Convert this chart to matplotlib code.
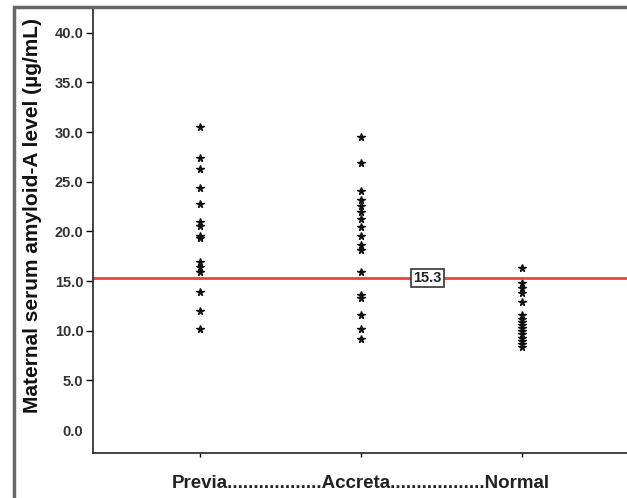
import matplotlib.pyplot as plt
from matplotlib.patches import Rectangle

plt.rcParams['font.family'] = ['Liberation Sans', 'DejaVu Sans']

# data
groups = ['Previa', 'Accreta', 'Normal']
previa = [30.5, 27.4, 26.3, 24.4, 22.8, 21.0, 20.6, 19.5, 19.3,
          16.9, 16.4, 15.9, 13.9, 12.0, 10.2]
accreta = [29.5, 26.9, 24.1, 23.2, 22.6, 22.0, 21.3, 20.5, 19.5,
           18.6, 18.1, 15.9, 13.6, 13.3, 11.6, 10.2, 9.2]
normal = [16.3, 14.8, 14.3, 13.8, 12.9, 11.6, 11.2, 10.9, 10.6,
          10.3, 10.0, 9.7, 9.3, 9.0, 8.7, 8.4]
cutoff = 15.3
y_ticks = [0, 5, 10, 15, 20, 25, 30, 35, 40]

W, H = 627, 498
fig = plt.figure(figsize=(W / 100, H / 100), dpi=100)
ax = fig.add_axes([93 / W, 45 / H, 1 - 93 / W, 446 / H])

# outer frame of the original figure
fig.patches.append(Rectangle((14 / W, -0.1), 1.2, 0.1 + 491 / H, transform=fig.transFigure,
                             fill=False, edgecolor='#666666', linewidth=2.5, zorder=0))

for i, vals in enumerate([previa, accreta, normal]):
    ax.plot([i + 1] * len(vals), vals, linestyle='none', marker='*',
            markersize=5.5, color='#111111')

ax.axhline(cutoff, color='#e8453c', linewidth=2)
ax.text(2.41, cutoff, '%.1f' % cutoff, ha='center', va='center', fontsize=10.5,
        fontweight='bold', color='#222222',
        bbox=dict(boxstyle='square,pad=0.15', facecolor='white', edgecolor='#333333', lw=1.2))

ax.set_xlim(0.335, 3.65)
ax.set_ylim(-2.3, 42.6)
ax.set_yticks(y_ticks)
ax.set_yticklabels(['%.1f' % v for v in y_ticks], fontsize=10.5, fontweight='bold', color='#333333')
ax.set_xticks([1, 2, 3])
ax.set_xticklabels([])
ax.tick_params(axis='x', length=3, width=1)
ax.tick_params(axis='y', length=5, width=1, pad=2)
ax.yaxis.get_major_ticks()[0].tick1line.set_visible(False)

ax.spines['right'].set_visible(False)
for s in ['left', 'top', 'bottom']:
    ax.spines[s].set_linewidth(1.2)
    ax.spines[s].set_color('#222222')

fig.text(33 / W, 1 - 215 / H, 'Maternal serum amyloid-A level (µg/mL)', rotation=90,
         ha='center', va='center', fontsize=15, fontweight='bold', color='#111111')
fig.text(361 / W, 1 - 483 / H, 'Previa' + '.' * 18 + 'Accreta' + '.' * 18 + 'Normal',
         ha='center', va='center', fontsize=13.5, fontweight='bold', color='#222222')

fig.savefig('out.png', dpi=100)
